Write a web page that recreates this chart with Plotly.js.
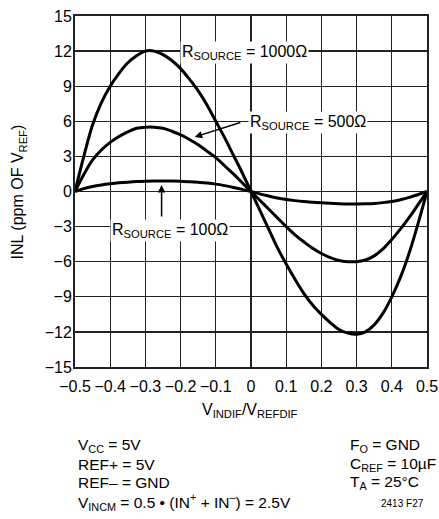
<!DOCTYPE html>
<html>
<head>
<meta charset="utf-8">
<script src="https://cdn.plot.ly/plotly-3.0.1.min.js"></script>
<style>html,body{margin:0;padding:0;background:#fff;}#chart{width:439px;height:519px;}</style>
</head>
<body>
<div id="chart"></div>
<script>
// Data
const xVals = [-0.5,-0.475,-0.45,-0.425,-0.4,-0.375,-0.35,-0.325,-0.3,-0.275,-0.25,-0.225,-0.2,-0.175,-0.15,-0.125,-0.1,-0.075,-0.05,-0.025,
  0,0.025,0.05,0.075,0.1,0.125,0.15,0.175,0.2,0.225,0.25,0.275,0.3,0.325,0.35,0.375,0.4,0.425,0.45,0.475,0.5];
const inl1000 = [0,3.0,5.7,7.6,9.0,10.1,11.0,11.6,12.0,12.0,11.7,11.2,10.5,9.6,8.6,7.4,6.0,4.6,3.1,1.6,
  0,-1.6,-3.2,-4.8,-6.2,-7.5,-8.7,-9.7,-10.5,-11.2,-11.8,-12.1,-12.2,-12.0,-11.4,-10.4,-9.0,-7.3,-5.2,-2.7,0];
const inl500 = [0,1.45,2.7,3.55,4.2,4.7,5.1,5.4,5.5,5.5,5.4,5.15,4.85,4.45,4.0,3.45,2.9,2.2,1.5,0.75,
  0,-0.75,-1.5,-2.25,-3.0,-3.7,-4.3,-4.85,-5.3,-5.65,-5.9,-6.0,-6.0,-5.85,-5.5,-4.9,-4.1,-3.2,-2.2,-1.1,0];
const inl100 = [0,0.25,0.43,0.56,0.66,0.74,0.8,0.85,0.88,0.9,0.9,0.89,0.87,0.83,0.78,0.72,0.63,0.5,0.35,0.18,
  0,-0.2,-0.38,-0.55,-0.68,-0.78,-0.86,-0.92,-0.97,-1.01,-1.04,-1.06,-1.06,-1.05,-1.02,-0.95,-0.85,-0.7,-0.5,-0.26,0];
const xTicks = [-0.5,-0.4,-0.3,-0.2,-0.1,0,0.1,0.2,0.3,0.4,0.5];
const xTickText = ['\u22120.5','\u22120.4','\u22120.3','\u22120.2','\u22120.1','0','0.1','0.2','0.3','0.4','0.5'];
const yTicks = [-15,-12,-9,-6,-3,0,3,6,9,12,15];
const yTickText = ['\u221215','\u221212','\u22129','\u22126','\u22123','0','3','6','9','12','15'];

const FONT = 'Liberation Sans, Arial, Helvetica, sans-serif';
const line = {color:'#000', width:3, shape:'spline', smoothing:1};

const traces = [
  {x:xVals, y:inl1000, mode:'lines', line:line, name:'1000', hoverinfo:'skip'},
  {x:xVals, y:inl500, mode:'lines', line:line, name:'500', hoverinfo:'skip'},
  {x:xVals, y:inl100, mode:'lines', line:line, name:'100', hoverinfo:'skip'}
];

const ann = [];
function label(text, x, y) {
  ann.push({text:text, x:x, y:y, xref:'x', yref:'y', showarrow:false, bgcolor:'#fff',
    font:{family:FONT, size:16, color:'#000'}, borderpad:1, xanchor:'center', yanchor:'middle'});
}
label('R<sub>SOURCE</sub> = 1000\u03A9', -0.018, 11.9);
label('R<sub>SOURCE</sub> = 500\u03A9', 0.163, 5.9);
label('R<sub>SOURCE</sub> = 100\u03A9', -0.231, -3.3);
function arrow(x, y, ax, ay) {
  ann.push({text:'', x:x, y:y, ax:ax, ay:ay, xref:'x', yref:'y', axref:'x', ayref:'y',
    showarrow:true, arrowhead:2, arrowsize:1, arrowwidth:1.5, arrowcolor:'#000', standoff:0});
}
arrow(-0.16, 4.66, -0.026, 5.94);
arrow(-0.254, 0.56, -0.254, -2.26);

function ptext(text, px, py, anchor, size) {
  ann.push({text:text, x:(px-75.5)/351.5, y:(367-py)/351, xref:'paper', yref:'paper', showarrow:false,
    xanchor:anchor, yanchor:'middle', font:{family:FONT, size:size||16, color:'#000'}});
}
ptext('V<sub>INDIF</sub>/V<sub>REFDIF</sub>', 250, 410, 'center');
ptext('V<sub>CC</sub> = 5V', 76.5, 445, 'left', 15.5);
ptext('REF+ = 5V', 76.5, 464, 'left', 15.5);
ptext('REF\u2013 = GND', 76.5, 483, 'left', 15.5);
ptext('V<sub>INCM</sub> = 0.5 \u2022 (IN<sup>+</sup> + IN<sup>\u2013</sup>) = 2.5V', 76.5, 502, 'left', 15.5);
ptext('F<sub>O</sub> = GND', 348, 445, 'left', 15.5);
ptext('C<sub>REF</sub> = 10\u00B5F', 348, 464, 'left', 15.5);
ptext('T<sub>A</sub> = 25\u00B0C', 348, 483, 'left', 15.5);
ptext('2413 F27', 426, 503, 'right', 10);
ann.push({text:'INL (ppm OF V<sub>REF</sub>)', x:(20-75.5)/351.5, y:(367-192)/351, xref:'paper', yref:'paper',
  showarrow:false, textangle:-90, xanchor:'center', yanchor:'middle', font:{family:FONT, size:16, color:'#000'}});

const axisCommon = {
  showgrid:true, gridcolor:'#222', gridwidth:1.3, zeroline:false,
  showline:true, linecolor:'#222', linewidth:2, mirror:true,
  ticks:'', tickangle:0, tickfont:{family:FONT, size:16, color:'#000'}, fixedrange:true
};

const layout = {
  width:439, height:519,
  margin:{l:75, r:12, t:16, b:152},
  paper_bgcolor:'#fff', plot_bgcolor:'#fff',
  showlegend:false,
  font:{family:FONT, size:16, color:'#000'},
  xaxis:Object.assign({}, axisCommon, {range:[-0.5,0.5], tickvals:xTicks, ticktext:xTickText, ticklabelstandoff:4}),
  yaxis:Object.assign({}, axisCommon, {range:[-15,15], tickvals:yTicks, ticktext:yTickText, ticklabelstandoff:-2}),
  annotations:ann
};

Plotly.newPlot('chart', traces, layout, {displayModeBar:false, staticPlot:true});
</script>
</body>
</html>
